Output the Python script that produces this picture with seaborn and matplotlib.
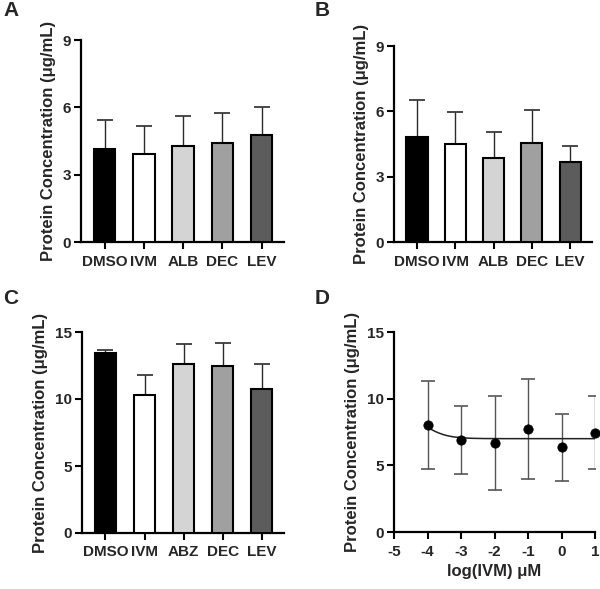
import numpy as np
import pandas as pd
import matplotlib
matplotlib.use("Agg")
import matplotlib.pyplot as plt
import seaborn as sns

sns.set_theme(style="ticks")
plt.rcParams['font.family'] = ['Liberation Sans', 'DejaVu Sans']
plt.rcParams['font.weight'] = 'bold'
plt.rcParams['axes.labelweight'] = 'bold'
plt.rcParams['axes.unicode_minus'] = False

# ---- data ----
cats_ab = ["DMSO", "IVM", "ALB", "DEC", "LEV"]
cats_c = ["DMSO", "IVM", "ABZ", "DEC", "LEV"]
mean_a = [4.16, 3.92, 4.29, 4.40, 4.78]
sd_a = [1.28, 1.25, 1.33, 1.34, 1.25]
mean_b = [4.83, 4.51, 3.84, 4.54, 3.67]
sd_b = [1.68, 1.48, 1.22, 1.54, 0.75]
mean_c = [13.43, 10.32, 12.59, 12.44, 10.77]
sd_c = [0.23, 1.47, 1.49, 1.71, 1.82]
log_ivm = [-4, -3, -2, -1, 0, 1]
mean_d = [8.01, 6.89, 6.69, 7.71, 6.34, 7.44]
sd_d = [3.31, 2.56, 3.53, 3.73, 2.48, 2.74]
# fitted dose-response parameters (bottom, top, logEC50, hill)
fit_bottom, fit_top, fit_logec50, fit_hill = 7.0, 9.0, -4.1, 1.3

bar_colors = ["#000000", "#ffffff", "#d4d4d4", "#a0a0a0", "#5c5c5c"]

W, H = 600, 589
fig = plt.figure(figsize=(6.0, 5.89), dpi=100)

def add_ax(l, r, t, b):
    return fig.add_axes([l / W, 1 - b / H, (r - l) / W, (b - t) / H])

def style(ax):
    for s in ["top", "right"]:
        ax.spines[s].set_visible(False)
    for s in ["left", "bottom"]:
        ax.spines[s].set_linewidth(1.6)
        ax.spines[s].set_color("black")
    ax.tick_params(axis="both", which="major", length=5, width=1.5,
                   color="black", labelsize=11, direction="out")
    ax.tick_params(axis="y", pad=2)
    ax.tick_params(axis="x", pad=4)
    for lab in ax.get_xticklabels() + ax.get_yticklabels():
        lab.set_fontweight("bold")
    ax.set_ylabel("Protein Concentration (\u03bcg/mL)", fontsize=12,
                  fontweight="bold", labelpad=5)

def bar_panel(ax, cats, means, sds, ymax, yticks):
    df = pd.DataFrame({"cat": cats, "val": means})
    sns.barplot(data=df, x="cat", y="val", hue="cat", palette=bar_colors,
                legend=False, edgecolor="black", linewidth=1.5, width=0.55,
                ax=ax, errorbar=None, zorder=3)
    x = np.arange(len(cats))
    ax.errorbar(x, means, yerr=[np.zeros(len(sds)), sds], fmt="none",
                ecolor="#2a2a2a", elinewidth=1.0, capsize=6, capthick=1.2,
                zorder=2)
    ax.set_ylim(0, ymax)
    ax.set_yticks(yticks)
    ax.set_xlim(-0.6, 4.57)
    ax.set_xlabel("")
    style(ax)

axA = add_ax(81, 284, 40, 242)
bar_panel(axA, cats_ab, mean_a, sd_a, 9, [0, 3, 6, 9])
axB = add_ax(394, 592, 46, 242)
bar_panel(axB, cats_ab, mean_b, sd_b, 9, [0, 3, 6, 9])
axC = add_ax(82, 284, 332, 533)
bar_panel(axC, cats_c, mean_c, sd_c, 15, [0, 5, 10, 15])

axD = add_ax(394, 595, 332, 532)
dfD = pd.DataFrame({"x": log_ivm, "y": mean_d})
axD.errorbar(log_ivm, mean_d, yerr=sd_d, fmt="none", ecolor="#555555",
             elinewidth=1.0, capsize=5, capthick=1.2, zorder=2)
xf = np.linspace(-4, 1, 200)
yf = fit_bottom + (fit_top - fit_bottom) / (1 + 10 ** ((xf - fit_logec50) * fit_hill))
sns.lineplot(x=xf, y=yf, ax=axD, color="#222222", linewidth=1.1, zorder=3)
sns.scatterplot(data=dfD, x="x", y="y", ax=axD, color="black", s=45,
                edgecolor="black", zorder=4, clip_on=False)
axD.set_xlim(-5, 1)
axD.set_ylim(0, 15)
axD.set_xticks([-5, -4, -3, -2, -1, 0, 1])
axD.set_yticks([0, 5, 10, 15])
style(axD)
axD.set_xlabel("log(IVM) \u03bcM", fontsize=12, fontweight="bold", labelpad=4)

for lbl, x, y in [("A", 3, 1), ("B", 315, 1), ("C", 3, 289), ("D", 315, 289)]:
    fig.text(x / W, 1 - y / H, lbl, fontsize=15, fontweight="bold",
             ha="left", va="top")

fig.savefig("out.png", dpi=100)
